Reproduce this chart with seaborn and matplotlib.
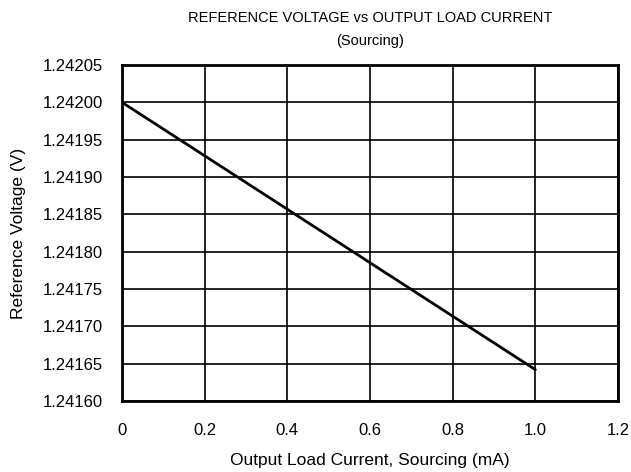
import numpy as np
import pandas as pd
import matplotlib
matplotlib.use('Agg')
import matplotlib.pyplot as plt
import seaborn as sns

# data
current_ma = [0.0, 1.0]
voltage_v = [1.24200, 1.241642]

x_ticks = [0, 0.2, 0.4, 0.6, 0.8, 1.0, 1.2]
x_tick_labels = ['0', '0.2', '0.4', '0.6', '0.8', '1.0', '1.2']
y_ticks = [1.24160, 1.24165, 1.24170, 1.24175, 1.24180,
           1.24185, 1.24190, 1.24195, 1.24200, 1.24205]

df = pd.DataFrame({'current': current_ma, 'voltage': voltage_v})

sns.set_style('white')
plt.rcParams['font.family'] = ['Liberation Sans', 'DejaVu Sans']
plt.rcParams['text.color'] = 'black'
plt.rcParams['axes.labelcolor'] = 'black'

W, H = 631, 472
fig = plt.figure(figsize=(W / 100, H / 100), dpi=100)
ax = fig.add_axes([122 / W, 1 - 401 / H, 496 / W, 336 / H])

sns.lineplot(data=df, x='current', y='voltage', color='black', linewidth=2, ax=ax)

ax.set_xlim(0, 1.2)
ax.set_ylim(1.24160, 1.24205)
ax.set_xticks(x_ticks)
ax.set_xticklabels(x_tick_labels)
ax.set_yticks(y_ticks)
ax.set_yticklabels([f'{v:.5f}' for v in y_ticks])
ax.tick_params(axis='both', labelsize=12, length=0, colors='black')
ax.tick_params(axis='x', pad=16)
ax.tick_params(axis='y', pad=14)

ax.grid(True, color='black', linewidth=1.2)
for s in ax.spines.values():
    s.set_visible(True)
    s.set_color('black')
    s.set_linewidth(2)

# axis labels, placed where the reference has them
ax.set_xlabel('Output Load Current, Sourcing (mA)', fontsize=12.5, va='baseline')
ax.xaxis.set_label_coords(0.5, (401 - 465) / 336)
ax.set_ylabel('Reference Voltage (V)', fontsize=12.5, va='center')
ax.yaxis.set_label_coords((19 - 122) / 496, 0.5)

# two-line title
fig.text(370 / W, 1 - 22 / H, 'REFERENCE VOLTAGE vs OUTPUT LOAD CURRENT',
         ha='center', va='baseline', fontsize=10.5)
fig.text(370 / W, 1 - 45 / H, '(Sourcing)',
         ha='center', va='baseline', fontsize=10.5)

fig.savefig('out.png', dpi=100)
